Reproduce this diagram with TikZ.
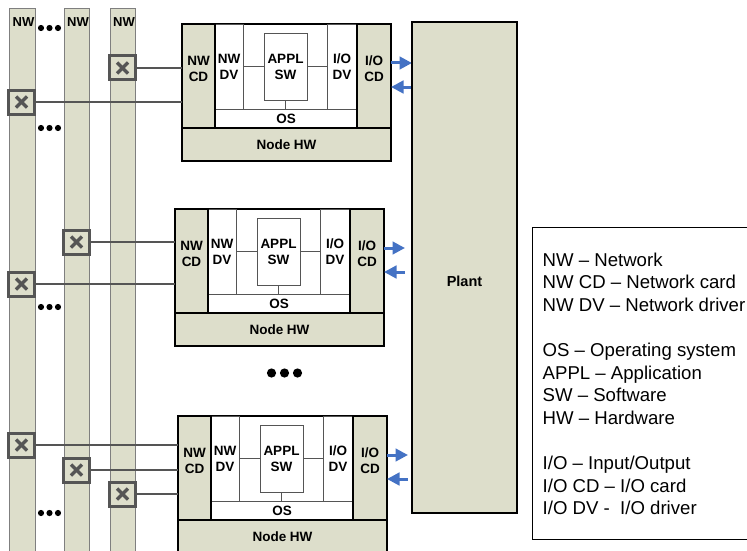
\documentclass[tikz,border=0pt]{standalone}
\usepackage{fontspec}
\setmainfont{Liberation Sans}
\usetikzlibrary{positioning,arrows.meta}
\definecolor{hwBeige}{HTML}{DDDECB}
\definecolor{swGray}{HTML}{555555}
\definecolor{ioBlue}{HTML}{4472C4}
\definecolor{barGray}{HTML}{7F7F7F}

\begin{document}
\begin{tikzpicture}[
    x=1pt, y=-1pt,
    lab/.style={font=\fontsize{13.5}{16}\selectfont\bfseries, align=center, inner sep=0pt},
    part/.style={draw=black, line width=1.1pt, fill=hwBeige, anchor=north west, inner sep=0pt, outer sep=0pt},
    sub/.style={draw=swGray, line width=0.8pt, fill=white, anchor=north west, inner sep=0pt, outer sep=0pt, lab},
    bar/.style={draw=barGray, line width=0.6pt, fill=hwBeige, anchor=north, minimum height=560pt, inner sep=0pt},
    barlab/.style={font=\fontsize{13}{15}\selectfont\bfseries, inner sep=0pt},
    swbox/.style={draw=swGray, line width=3pt, fill=hwBeige, minimum width=26pt, minimum height=24pt, inner sep=0pt,
      path picture={
        \draw[swGray, line width=3.4pt] ([shift={(-5.5,-5.5)}]path picture bounding box.center) -- ([shift={(5.5,5.5)}]path picture bounding box.center);
        \draw[swGray, line width=3.4pt] ([shift={(-5.5,5.5)}]path picture bounding box.center) -- ([shift={(5.5,-5.5)}]path picture bounding box.center);
      }},
    swline/.style={draw=swGray, line width=2.4pt},
    thinline/.style={draw=swGray, line width=0.8pt},
    outarr/.style={ioBlue, line width=3pt, -{Triangle[length=12.5pt,width=12.5pt]}},
    inarr/.style={ioBlue, line width=3pt, {Triangle[length=12.5pt,width=12.5pt]}-},
    legtext/.style={font=\fontsize{18.6}{22.6}\selectfont, align=left, inner sep=0pt}
  ]
  \useasboundingbox (0,0) rectangle (747,551);
  \clip (0,0) rectangle (747,551);

  % network buses
  \node[bar, minimum width=26pt] (bar1) at (22,8) {};
  \node[bar, minimum width=25pt] (bar2) at (76.5,8) {};
  \node[bar, minimum width=25pt] (bar3) at (122.5,8) {};
  \foreach \n in {bar1,bar2,bar3}
    \node[barlab] at ([xshift=1.5pt,yshift=-14pt]\n.north) {NW};

  \foreach \dy in {28,128,307,513}
    \foreach \dx in {41,49.5,58}
      \fill (\dx,\dy) circle (3.1pt);

  % nodes
  \foreach \px/\py/\blk in {182/24/a, 175/209/b, 178/416/c}{
    \begin{scope}[shift={(\px,\py)}]
      \node[part, fill=white, minimum width=209pt, minimum height=137pt] (\blk-frame) at (0,0) {};
      \node[sub, minimum width=142pt, minimum height=19pt] (\blk-os) at (33,85) {OS};
      \node[sub, minimum width=28pt, minimum height=85pt] (\blk-nwdv) at (33,0) {NW\\DV};
      \node[sub, minimum width=30pt, minimum height=85pt] (\blk-iodv) at (145,0) {I/O\\DV};
      \node[sub, minimum width=43pt, minimum height=67pt] (\blk-appl) at (82,9) {APPL\\SW};
      \node[part, minimum width=33pt, minimum height=104pt] (\blk-nwcd) at (0,0) {};
      \node[part, minimum width=34pt, minimum height=104pt] (\blk-iocd) at (175,0) {};
      \node[part, lab, minimum width=209pt, minimum height=33pt] (\blk-hw) at (0,104) {Node HW};
    \end{scope}
    \node[lab] at ([yshift=7pt]\blk-nwcd.center) {NW\\CD};
    \node[lab] at ([yshift=7pt]\blk-iocd.center) {I/O\\CD};
    \draw[thinline] (\blk-appl.west) -- (\blk-nwdv.east);
    \draw[thinline] (\blk-appl.east) -- (\blk-iodv.west);
    \draw[thinline] (\blk-appl.south) -- (\blk-appl.south |- \blk-os.north);
    \draw[outarr] ([yshift=13pt]\blk-iocd.east) -- ++(21,0);
    \draw[inarr] ([yshift=-11pt]\blk-iocd.east) -- ++(21,0);
  }

  \foreach \dx in {271.5,284.5,297.5}
    \fill (\dx,373) circle (4.6pt);

  % switches
  \node[swbox] (sa3) at (122.5,68) {};
  \node[swbox] (sa1) at (21.5,102) {};
  \node[swbox] (sb2) at (76.5,242) {};
  \node[swbox] (sb1) at (21.5,284) {};
  \node[swbox] (sc1) at (21.5,445) {};
  \node[swbox] (sc2) at (76.5,470) {};
  \node[swbox] (sc3) at (122.5,494) {};
  \foreach \s/\blk in {sa3/a, sa1/a, sb2/b, sb1/b, sc1/c, sc2/c, sc3/c}
    \draw[swline] (\s.east) -- (\s.east -| \blk-nwcd.west);

  % plant
  \node[part, minimum width=105pt, minimum height=491pt] (plant) at (412,22) {};
  \node[lab, font=\fontsize{14.5}{17}\selectfont\bfseries] at ([yshift=-13.5pt]plant.center) {Plant};

  % legend
  \node[draw=black, line width=1pt, anchor=north west, minimum width=240pt, minimum height=312pt] (legframe) at (532,227) {};
  \node[legtext, anchor=north west] (legend) at (542.5,252.7) {NW – Network\\
    NW CD – Network card\\
    NW DV – Network driver\\[22.6pt]
    OS – Operating system\\
    APPL – Application\\
    SW – Software\\
    HW – Hardware\\[22.6pt]
    I/O – Input/Output\\
    I/O CD – I/O card\\
    I/O DV -~ I/O driver};
\end{tikzpicture}
\end{document}
